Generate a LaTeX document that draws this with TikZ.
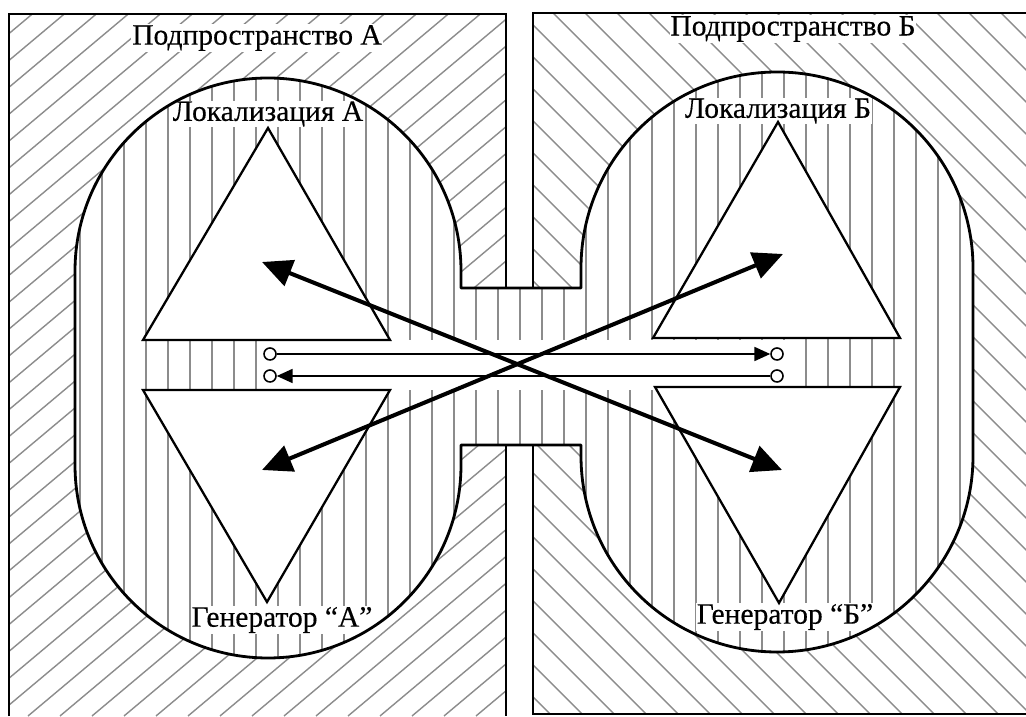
\documentclass[tikz,border=0pt]{standalone}
\usepackage{fontspec}
\setmainfont{Liberation Serif}[FakeBold=0.4]
\usetikzlibrary{arrows.meta}
\begin{document}
\begin{tikzpicture}[x=0.02cm,y=0.02cm,
  hatch/.style={black!45, line width=0.8pt},
  border/.style={line width=1.5pt},
  outline/.style={line width=1.6pt, line join=round},
  tri/.style={draw, fill=white, line width=1.3pt, line join=miter},
  lbl/.style={font=\fontsize{16.8}{19}\selectfont, fill=white, inner sep=0.5pt},
  big/.style={line width=2.3pt, {Triangle[length=17pt,width=15.5pt]}-{Triangle[length=17pt,width=15.5pt]}},
  thinline/.style={line width=0.9pt},
  port/.style={circle, draw, line width=0.9pt, fill=white, minimum size=0.24cm, inner sep=0pt}
]
\useasboundingbox (0,0) rectangle (1026,716);
\fill[white] (0,0) rectangle (1026,716);

% diagonal hatching of the two subspaces
\begin{scope}
  \clip (9,0) rectangle (506,702);
  \foreach \c in {-900,-868,...,520} \draw[hatch] (\c,0) -- ++(853,716);
\end{scope}
\begin{scope}
  \clip (533,2) rectangle (1026,703);
  \foreach \c in {520,552,...,1800} \draw[hatch] (\c,0) -- ++(-716,716);
\end{scope}

% central region
\def\regionpath{(461,428) -- (461,445) arc[start angle=0, end angle=180, radius=193] -- (75,251) arc[start angle=180, end angle=360, radius=193] -- (461,271) -- (581,271) -- (581,260) arc[start angle=180, end angle=360, radius=196] -- (973,448) arc[start angle=0, end angle=180, radius=196] -- (581,428) -- cycle}

% labels
\node[lbl] (subA) at (257,678) {Подпространство А};
\node[lbl] (subB) at (793,687) {Подпространство Б};

% panel borders
\draw[border] (9,0) -- (9,702) -- (506,702) -- (506,0);
\draw[border] (1030,703) -- (533,703) -- (533,2) -- (1030,2);

\fill[white] \regionpath;
\begin{scope}
  \clip \regionpath;
  \foreach \x in {80,102,...,980} \draw[hatch] (\x,0) -- (\x,716);
  \fill[white] (262,326) rectangle (790,376);
\end{scope}

\node[lbl] (locA) at (268,602) {Локализация А};
\node[lbl] (locB) at (778,605) {Локализация Б};
\node[lbl] (genA) at (282,96) {Генератор “А”};
\node[lbl] (genB) at (785,99) {Генератор “Б”};

\draw[outline] \regionpath;

% triangles
\draw[tri] (268,588) -- (143,376) -- (390,376) -- cycle;
\draw[tri] (143,326) -- (390,326) -- (267,114) -- cycle;
\draw[tri] (778,594) -- (653,378) -- (900,378) -- cycle;
\draw[tri] (655,329) -- (900,329) -- (779,113) -- cycle;

% ports and thin connectors
\node[port] (pa1) at (270,362) {};
\node[port] (pa2) at (270,340) {};
\node[port] (pb1) at (777,362) {};
\node[port] (pb2) at (777,340) {};
\draw[thinline, -{Triangle[length=9pt,width=8pt]}] (pa1) -- (pb1);
\draw[thinline, -{Triangle[length=9pt,width=8pt]}] (pb2) -- (pa2);

% big crossing arrows
\coordinate (ul) at (262,454);
\coordinate (lr) at (782,246);
\coordinate (ur) at (783,462);
\coordinate (ll) at (262,246);
\draw[big] (ul) -- (lr);
\draw[big] (ll) -- (ur);
\end{tikzpicture}
\end{document}
